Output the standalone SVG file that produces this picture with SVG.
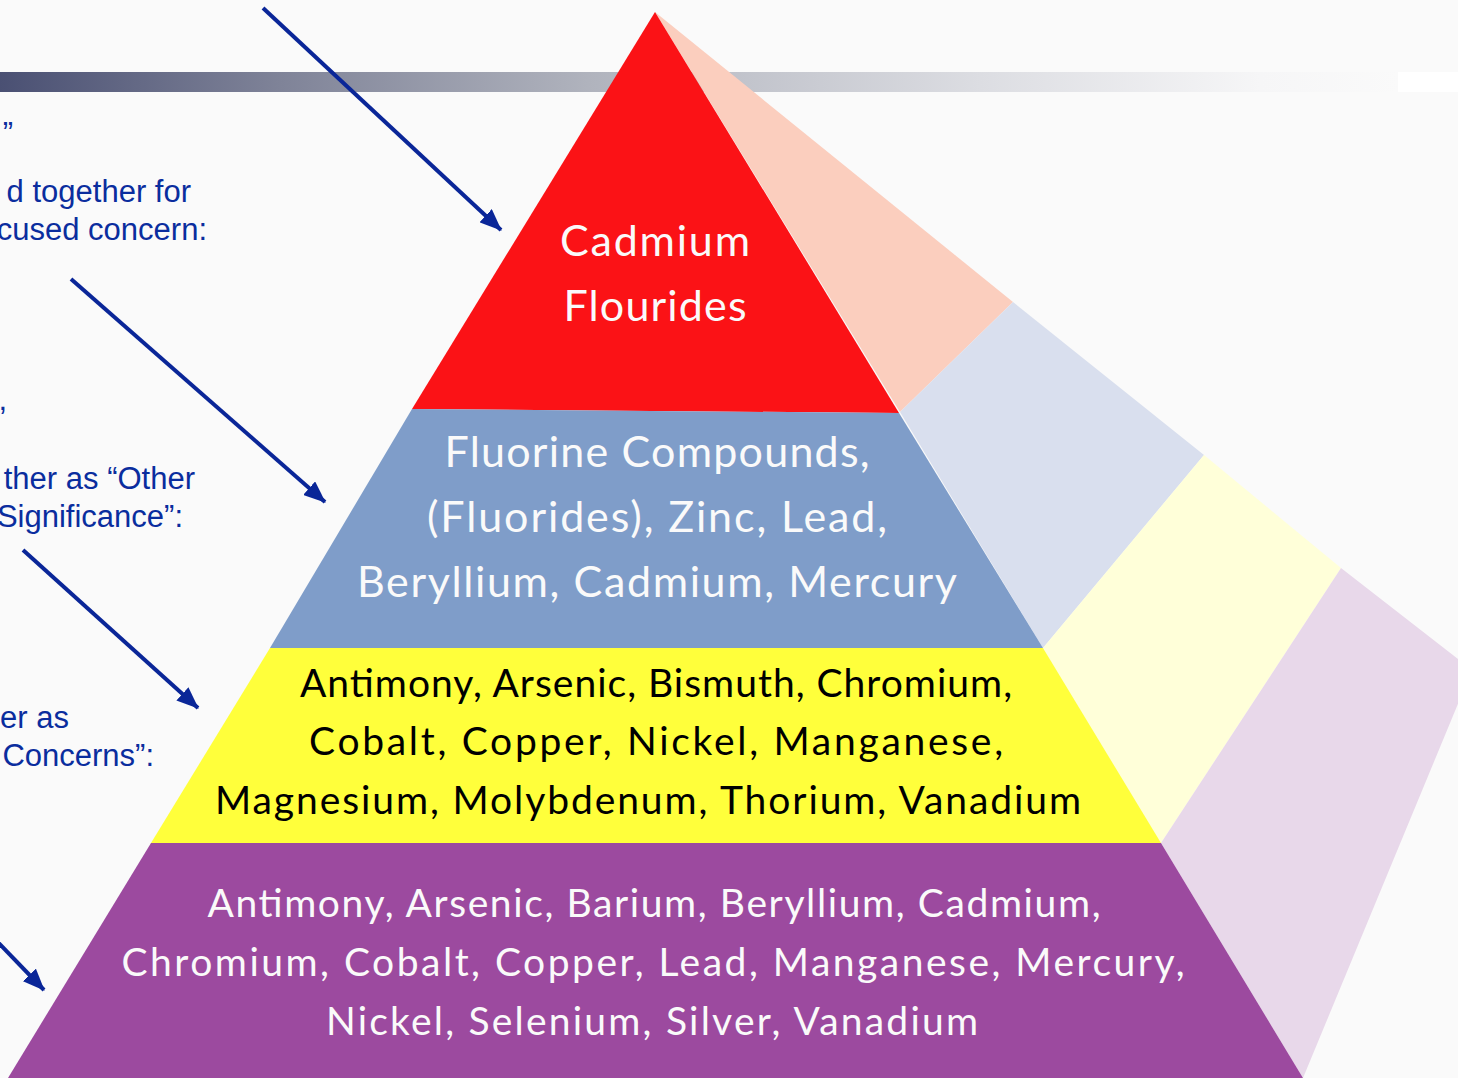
<svg xmlns="http://www.w3.org/2000/svg" width="1458" height="1078" viewBox="0 0 1458 1078">
<style>
.lt{font-family:"Liberation Sans",Arial,sans-serif;font-size:31px;fill:#0a2d9e;text-anchor:end}
.pt{font-family:Lato,"Noto Sans",sans-serif;text-anchor:middle}
.big{font-size:43px}
.sm{font-size:39px}
.w{fill:#fafafa}
.k{fill:#000}
.arr{stroke:#0a2698;stroke-width:4;fill:none}
</style>
<defs>
<linearGradient id="bar" x1="0" y1="0" x2="1" y2="0">
<stop offset="0" stop-color="#4a5073"/>
<stop offset="0.2" stop-color="#7f8398"/>
<stop offset="0.42" stop-color="#b0b3bd"/>
<stop offset="0.7" stop-color="#dcdde2"/>
<stop offset="0.9" stop-color="#f6f6f7"/>
<stop offset="1" stop-color="#fafafa"/>
</linearGradient>
<marker id="ah" markerWidth="24" markerHeight="18" refX="21" refY="9" orient="auto" markerUnits="userSpaceOnUse">
<path d="M0,0 L22,9 L0,18 z" fill="#0a2698"/>
</marker>
</defs>
<rect width="1458" height="1078" fill="#fafafa"/>
<rect x="0" y="72" width="1400" height="20" fill="url(#bar)"/>
<rect x="1398" y="72" width="60" height="20" fill="#ffffff"/>

<g id="left-text">
<text class="lt" x="13" y="144">”</text>
<text class="lt" x="191" y="202">d together for</text>
<text class="lt" x="207" y="240">cused concern:</text>
<text class="lt" x="7" y="410">,</text>
<text class="lt" x="195" y="489">ther as “Other</text>
<text class="lt" x="183" y="527">Significance”:</text>
<text class="lt" x="69" y="728">er as</text>
<text class="lt" x="154" y="766">Concerns”:</text>
</g>

<g id="side-faces">
<polygon points="655,12 1013,302 900,412" fill="#fbcebe"/>
<polygon points="900,412 1013,302 1204,455 1043,648" fill="#d9dfee"/>
<polygon points="1043,648 1204,455 1341,568 1161,843" fill="#ffffd9"/>
<polygon points="1161,843 1341,568 1472,670 1303,1078" fill="#e8d8ea"/>
</g>

<g id="level-1">
<polygon points="655,12 899,413 412,409" fill="#fb1216"/>
<text class="pt big w" x="655" y="256" textLength="190" lengthAdjust="spacing">Cadmium</text>
<text class="pt big w" x="655" y="321" textLength="183" lengthAdjust="spacing">Flourides</text>
</g>

<g id="level-2">
<polygon points="412,409 899,413 1043,648 270,648" fill="#7f9dc9"/>
<text class="pt big w" x="657" y="467" textLength="425" lengthAdjust="spacing">Fluorine Compounds,</text>
<text class="pt big w" x="657" y="532" textLength="460" lengthAdjust="spacing">(Fluorides), Zinc, Lead,</text>
<text class="pt big w" x="657" y="597" textLength="600" lengthAdjust="spacing">Beryllium, Cadmium, Mercury</text>
</g>

<g id="level-3">
<polygon points="270,648 1043,648 1161,843 151,843" fill="#ffff3b"/>
<text class="pt sm k" x="656" y="697" textLength="712" lengthAdjust="spacing">Antimony, Arsenic, Bismuth, Chromium,</text>
<text class="pt sm k" x="656" y="755" textLength="694" lengthAdjust="spacing">Cobalt, Copper, Nickel, Manganese,</text>
<text class="pt sm k" x="648" y="814" textLength="866" lengthAdjust="spacing">Magnesium, Molybdenum, Thorium, Vanadium</text>
</g>

<g id="level-4">
<polygon points="151,843 1161,843 1303,1078 8,1078" fill="#9c4a9f"/>
<text class="pt sm w" x="654" y="917" textLength="893" lengthAdjust="spacing">Antimony, Arsenic, Barium, Beryllium, Cadmium,</text>
<text class="pt sm w" x="653" y="976" textLength="1063" lengthAdjust="spacing">Chromium, Cobalt, Copper, Lead, Manganese, Mercury,</text>
<text class="pt sm w" x="652" y="1035" textLength="652" lengthAdjust="spacing">Nickel, Selenium, Silver, Vanadium</text>
</g>

<g id="connectors">
<line class="arr" x1="263" y1="8" x2="501" y2="230" marker-end="url(#ah)"/>
<line class="arr" x1="71" y1="279" x2="325" y2="502" marker-end="url(#ah)"/>
<line class="arr" x1="23" y1="550" x2="198" y2="708" marker-end="url(#ah)"/>
<line class="arr" x1="-10" y1="934" x2="44" y2="990" marker-end="url(#ah)"/>
</g>
</svg>
